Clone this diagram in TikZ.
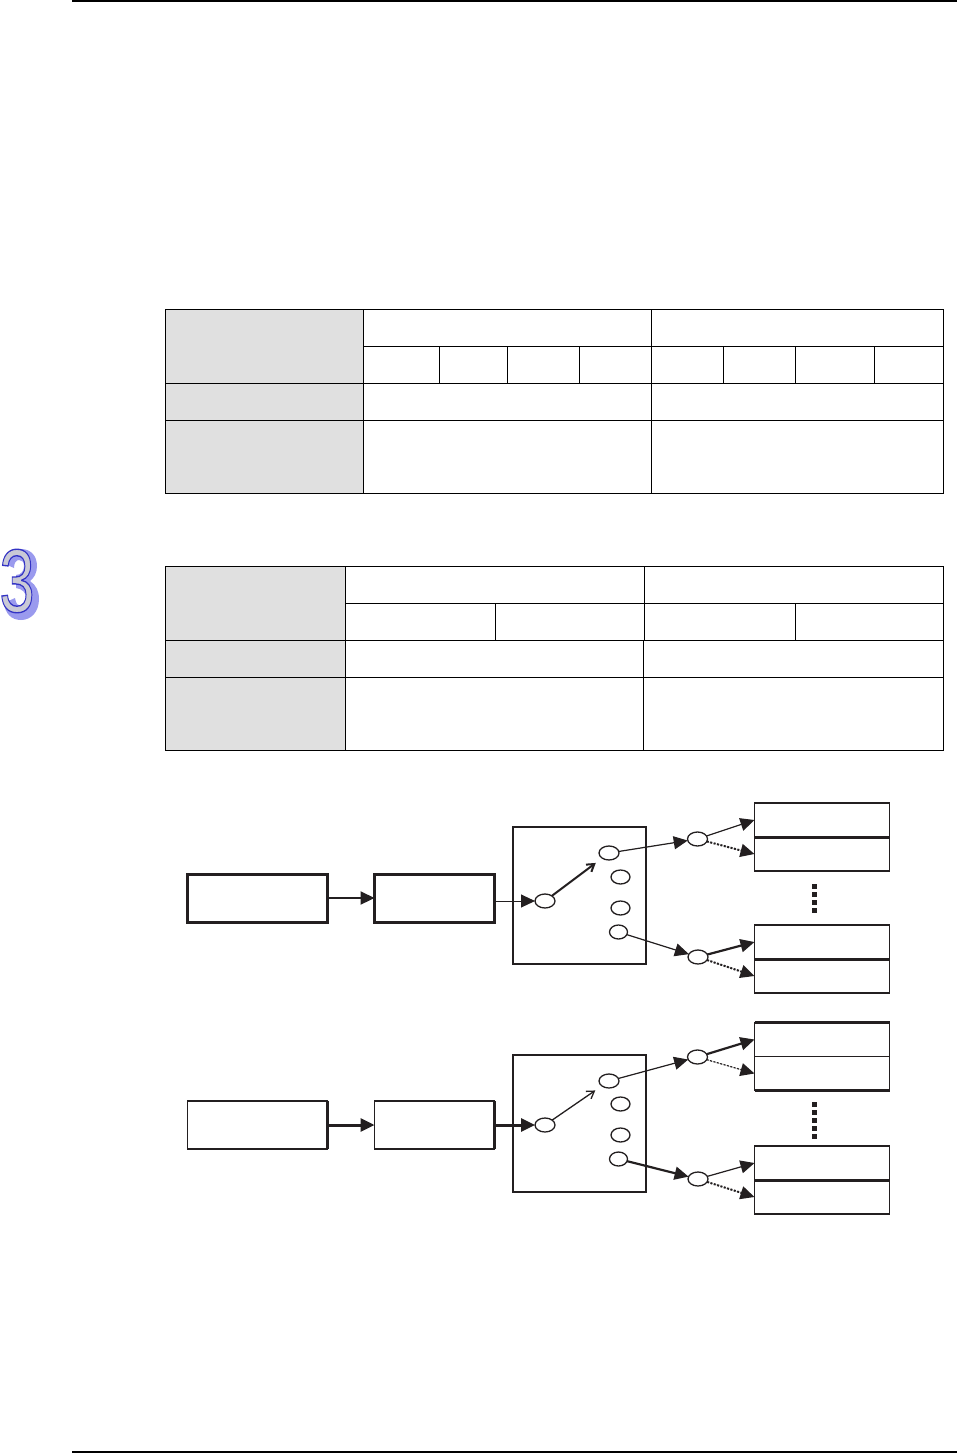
\documentclass[tikz,border=0pt]{standalone}
\usepackage{fontspec}
\usepackage{xcolor}
\usepackage{tikz}
\usetikzlibrary{arrows.meta,positioning,shapes.geometric}
\newfontfamily\chapfont{Liberation Sans}[FakeBold=1.5]
\definecolor{inkblack}{HTML}{231F20}
\definecolor{cellgray}{HTML}{E0E0E0}
\definecolor{chapshade}{HTML}{9A9AEE}
\def\px{0.75pt}
\newcommand{\outlined}[1]{\special{pdf:code q 2 Tr 1.6 w 0.2 0.2 0.77 RG 0.79 0.79 0.84 rg}#1\special{pdf:code Q}}

\begin{document}
\begin{tikzpicture}[
  x=0.75pt, y=-0.75pt,
  tline/.style={draw=black, line width=1*\px},
  unit/.style={draw=inkblack, outer sep=0pt, minimum height=48*\px, inner sep=0pt},
  panel/.style={draw=inkblack, outer sep=0pt, minimum width=133*\px, minimum height=137*\px,
                 line width=2*\px, inner sep=0pt},
  reg/.style={draw=inkblack, outer sep=0pt, minimum width=135*\px, minimum height=34*\px,
               line width=1.2*\px, inner sep=0pt},
  pin/.style={draw=inkblack, ellipse, outer sep=0pt, minimum width=20*\px, minimum height=14*\px,
               line width=1.3*\px, inner sep=0pt, fill=white},
  heavy/.style={line width=3*\px},
  light/.style={line width=1.2*\px},
  arr/.style={-{Triangle[length=14*\px, width=13*\px]}, draw=inkblack, fill=inkblack, line width=1.2*\px},
  arrb/.style={arr, line width=2.2*\px},
  dotarr/.style={arr, dash pattern=on 2*\px off 1.5*\px},
  swarr/.style={-{Straight Barb[length=7*\px, width=9*\px]}, draw=inkblack, shorten >=8*\px},
  gapdots/.style={draw=inkblack, line width=5*\px, dash pattern=on 5*\px off 3*\px},
]
\useasboundingbox (0,0) rectangle (957,1453);

% page rules
\coordinate (ruletopa) at (72,1);
\coordinate (ruletopb) at (957,1);
\coordinate (rulebota) at (72,1452);
\coordinate (rulebotb) at (957,1452);
\draw[line width=1.5*\px] (ruletopa) -- (ruletopb);
\draw[line width=1.5*\px] (rulebota) -- (rulebotb);

% chapter mark
\fill[chapshade, shift={(-1,-2)}] (6,566) .. controls (9,555) and (15,551) .. (22,551)
  .. controls (32,551) and (38,558) .. (38,568) .. controls (38,575) and (35,580) .. (31,583)
  .. controls (37,587) and (40,593) .. (40,601) .. controls (40,614) and (32,622) .. (22,622)
  .. controls (12,622) and (6,615) .. (5,605) -- (16,600) .. controls (17,606) and (19,608) .. (22,608)
  .. controls (25,608) and (27,605) .. (27,600) .. controls (27,594) and (23,591) .. (17,590)
  -- (17,577) .. controls (22,577) and (25,573) .. (25,568) .. controls (25,564) and (23,562) .. (20,562)
  .. controls (17,562) and (15,565) .. (15,570) -- cycle;
\node[font=\chapfont\fontsize{66}{66}\selectfont, xscale=.72, yscale=1.02, inner sep=0pt] (chapmark) at (17,581) {\outlined{3}};

% table one
\fill[cellgray] (165,309) rectangle (363,493);
\draw[tline] (165,309) rectangle (943,493);
\foreach \rowy in {383,420} \draw[tline] (165,\rowy) -- (943,\rowy);
\draw[tline] (363,346) -- (943,346);
\draw[tline] (363,309) -- (363,493);
\draw[tline] (651,309) -- (651,493);
\foreach \colx in {439.5,507,579,723,795,874} \draw[tline] (\colx,346) -- (\colx,383);

% table two
\fill[cellgray] (165,566) rectangle (345,750);
\draw[tline] (165,566) rectangle (943,750);
\foreach \rowy in {640,677} \draw[tline] (165,\rowy) -- (943,\rowy);
\draw[tline] (345,603) -- (943,603);
\draw[tline] (345,566) -- (345,750);
\draw[tline] (644.5,566) -- (644.5,640);
\draw[tline] (643.5,640) -- (643.5,750);
\foreach \colx in {495.5,795.5} \draw[tline] (\colx,603) -- (\colx,640);

% upper diagram
\node[unit, heavy, minimum width=140*\px] (src1) at (257.5,898) {};
\node[unit, heavy, minimum width=120*\px, right=47*\px of src1] (dst1) {};
\node[panel] (box1) at (579.5,895.5) {};
\node[pin] (in1)  at (545,901) {};
\node[pin] (ch1a) at (609,853) {};
\node[pin, minimum width=19*\px] (ch1b) at (620.5,877) {};
\node[pin, minimum width=19*\px] (ch1c) at (620.5,908) {};
\node[pin, minimum width=18*\px] (ch1d) at (618.5,932) {};
\node[pin] (nd1a) at (697.5,839) {};
\node[pin] (nd1b) at (698,957) {};
\node[reg] (rg1a) at (822,820) {};
\node[reg, below=0pt of rg1a] (rg1b) {};
\node[reg] (rg1c) at (822,942) {};
\node[reg, below=0pt of rg1c] (rg1d) {};
\draw[inkblack, heavy] (rg1a.south west) -- (rg1a.south east);
\draw[inkblack, heavy] (rg1c.south west) -- (rg1c.south east);
\draw[inkblack, line width=2.2*\px] (rg1d.south west) -- (rg1d.south east);

\draw[arrb] (src1) -- (dst1);
\draw[arr, line width=1*\px] (dst1.east |- in1) -- (in1);
\draw[swarr, line width=2*\px] (in1) -- (ch1a);
\draw[arr] (ch1a) -- (nd1a);
\draw[arr] (ch1d) -- (nd1b);
\draw[arr] (nd1a) -- (rg1a.west);
\draw[dotarr, line width=2*\px] (nd1a) -- (rg1b.west);
\draw[arrb] (nd1b) -- (rg1c.west);
\draw[dotarr, line width=2*\px] (nd1b) -- (rg1d.west);
\coordinate (gap1a) at (814.5,884);
\coordinate (gap1b) at (814.5,913);
\draw[gapdots] (gap1a) -- (gap1b);

% lower diagram
\node[unit, light, minimum width=140*\px] (src2) at (257.5,1125) {};
\node[unit, light, minimum width=120*\px, right=47*\px of src2] (dst2) {};
\draw[inkblack, heavy] (src2.north east) -- (src2.south east);
\draw[inkblack, heavy] (dst2.north east) -- (dst2.south east);
\node[panel] (box2) at (579.5,1123) {};
\node[pin] (in2)  at (545,1125) {};
\node[pin] (ch2a) at (609,1081) {};
\node[pin, minimum width=19*\px] (ch2b) at (620.5,1104) {};
\node[pin, minimum width=19*\px] (ch2c) at (620.5,1135) {};
\node[pin, minimum width=18*\px] (ch2d) at (618.5,1159) {};
\node[pin] (nd2a) at (697.5,1057) {};
\node[pin] (nd2b) at (698,1179) {};
\node[reg] (rg2a) at (822,1039.5) {};
\node[reg, below=0pt of rg2a] (rg2b) {};
\node[reg] (rg2c) at (822,1163) {};
\node[reg, below=0pt of rg2c] (rg2d) {};
\draw[inkblack, line width=2.4*\px] (rg2a.north west) -- (rg2a.north east);
\draw[inkblack, line width=2.2*\px] (rg2b.south west) -- (rg2b.south east);
\draw[inkblack, heavy] (rg2c.south west) -- (rg2c.south east);

\draw[arrb, line width=3*\px] (src2) -- (dst2);
\draw[arrb, line width=3*\px] (dst2.east |- in2) -- (in2);
\draw[swarr, line width=1.3*\px] (in2) -- (ch2a);
\draw[arr] (ch2a) -- (nd2a);
\draw[arrb] (ch2d) -- (nd2b);
\draw[arrb] (nd2a) -- (rg2a.west);
\draw[dotarr] (nd2a) -- (rg2b.west);
\draw[arr] (nd2b) -- (rg2c.west);
\draw[dotarr, line width=2*\px] (nd2b) -- (rg2d.west);
\coordinate (gap2a) at (814.5,1102);
\coordinate (gap2b) at (814.5,1141);
\draw[gapdots] (gap2a) -- (gap2b);
\end{tikzpicture}
\end{document}
